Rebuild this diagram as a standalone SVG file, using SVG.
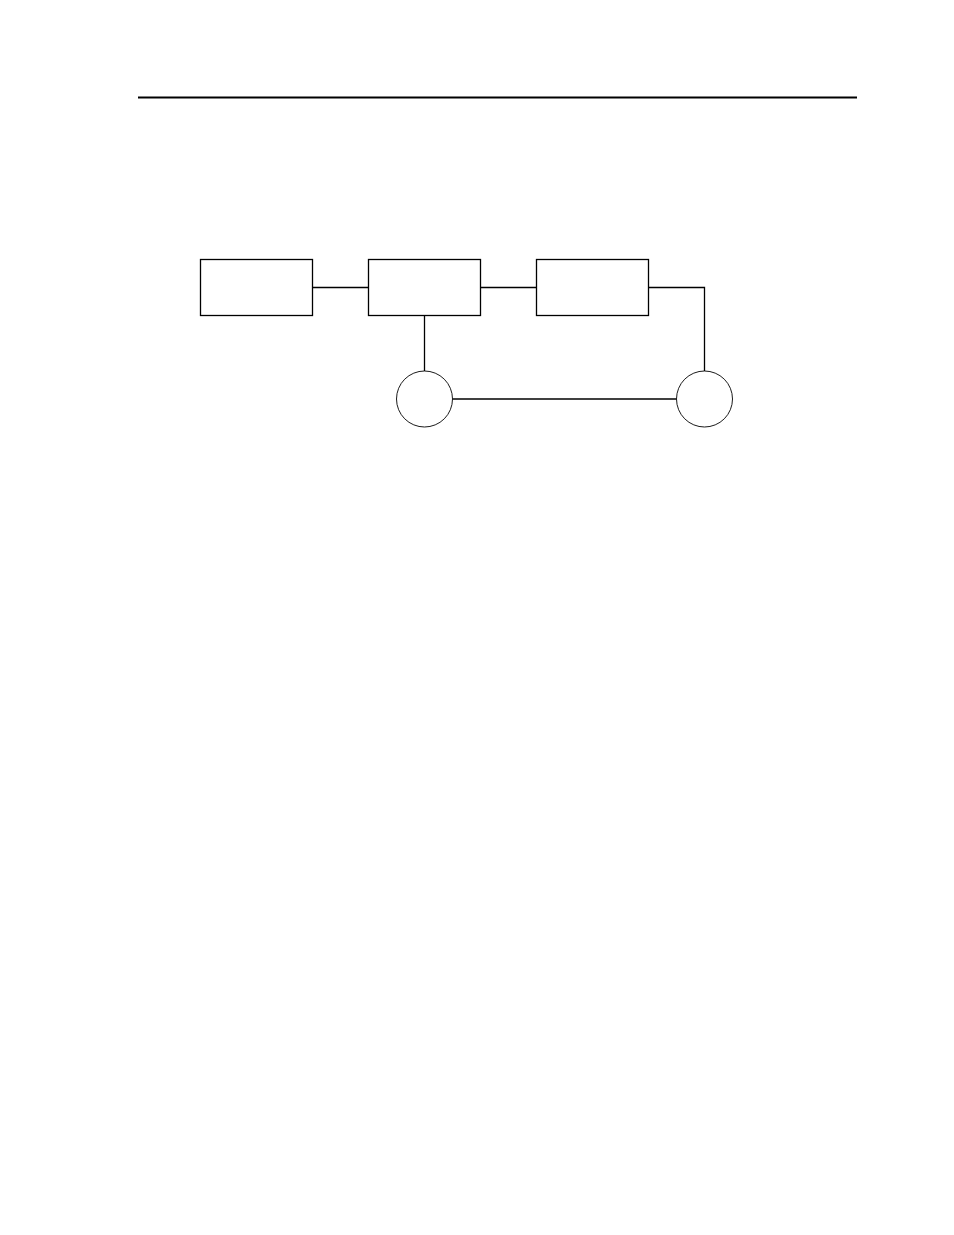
<svg xmlns="http://www.w3.org/2000/svg" width="954" height="1235" viewBox="0 0 954 1235">
<style>
.box{fill:#fff;stroke:#000;stroke-width:1.3}
.ring{fill:#fff;stroke:#000;stroke-width:0.9}
.wire{fill:none;stroke:#000;stroke-width:1.3}
</style>
<rect width="954" height="1235" fill="#fff"/>
<line x1="138" y1="97.5" x2="857" y2="97.5" stroke="#000" stroke-width="2"/>
<g id="connectors">
<line class="wire" x1="312.5" y1="287.5" x2="368.5" y2="287.5"/>
<line class="wire" x1="480.5" y1="287.5" x2="536.5" y2="287.5"/>
<polyline class="wire" points="648.5,287.5 704.5,287.5 704.5,371"/>
<line class="wire" x1="424.5" y1="315.5" x2="424.5" y2="371"/>
<line class="wire" x1="452.5" y1="399" x2="676.5" y2="399"/>
</g>
<g id="box1"><rect class="box" x="200.5" y="259.5" width="112" height="56"/></g>
<g id="box2"><rect class="box" x="368.5" y="259.5" width="112" height="56"/></g>
<g id="box3"><rect class="box" x="536.5" y="259.5" width="112" height="56"/></g>
<g id="circle1"><circle class="ring" cx="424.5" cy="399" r="28"/></g>
<g id="circle2"><circle class="ring" cx="704.5" cy="399" r="28"/></g>
</svg>
